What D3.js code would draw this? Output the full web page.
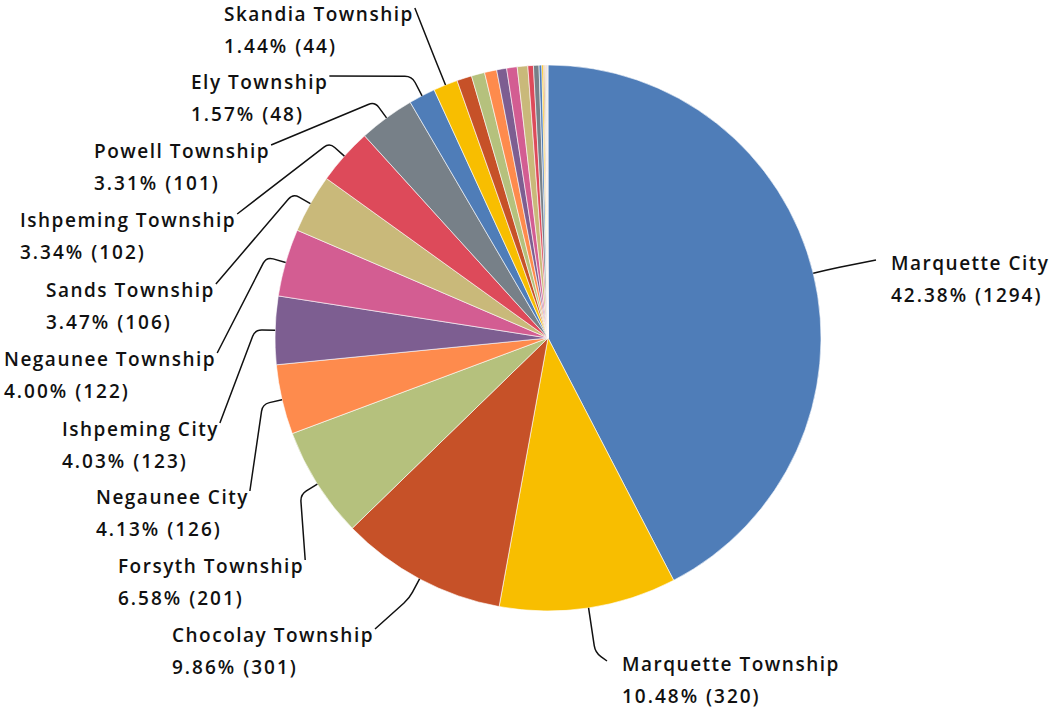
<!DOCTYPE html>
<html>
<head>
<meta charset="utf-8">
<script src="https://cdn.jsdelivr.net/npm/d3@7"></script>
<style>
  body { margin: 0; background: #fff; }
  svg { display: block; }
  .lbl { font-family: "Open Sans", sans-serif; font-weight: 600; font-size: 19px; fill: #111; letter-spacing: 1.5px; }
  .pct { letter-spacing: 2px; }
</style>
</head>
<body>
<div class="chart"></div>
<script>
// slice values, clockwise from 12 o'clock
const names = [
  'Marquette City', 'Marquette Township', 'Chocolay Township', 'Forsyth Township',
  'Negaunee City', 'Ishpeming City', 'Negaunee Township', 'Sands Township',
  'Ishpeming Township', 'Powell Township', 'Ely Township', 'Skandia Township',
  'Other 1', 'Other 2', 'Other 3', 'Other 4', 'Other 5', 'Other 6', 'Other 7',
  'Other 8', 'Other 9', 'Other 10', 'Other 11', 'Other 12', 'Other 13', 'Other 14',
  'Other 15', 'Other 16'
];
const counts = [
  1294, 320, 301, 201, 126, 123, 122, 106, 102, 101, 48, 44,
  27, 24, 22, 18, 19, 19, 10, 10, 5, 3, 2, 2, 1, 1, 1, 1
];
const palette = ['#4f7db8', '#f8be00', '#c65128', '#b5c17d', '#fe8b4d',
  '#7d5e91', '#d35d92', '#c9b97a', '#dd4a5a', '#778088'];

// label placement: [text x, name line centre y, side, knee length]
const labelPos = [
  [891, 263, 1, 20], [622, 664, 1, 45], [172, 635, -1, 22], [118, 566, -1, 20],
  [96, 497, -1, 20], [62, 429, -1, 20], [4, 359, -1, 20], [46, 290, -1, 20],
  [20, 220, -1, 20], [94, 151, -1, 20], [191, 82, -1, 22], [224, 14, -1, 28]
];

const width = 1050, height = 708;
const cx = 548, cy = 338, radius = 273;

const svg = d3.select('.chart').append('svg')
  .attr('width', width)
  .attr('height', height);

const data = names.map((n, i) => ({ name: n, value: counts[i], idx: i }));
const total = d3.sum(counts);

const pie = d3.pie().sort(null).value(d => d.value);
const arcs = pie(data);
const arc = d3.arc().innerRadius(0).outerRadius(radius);

const graph = svg.append('g').attr('transform', `translate(${cx}, ${cy})`);

graph.selectAll('path.slice')
  .data(arcs)
  .enter()
  .append('path')
  .attr('class', 'slice')
  .attr('d', arc)
  .attr('fill', d => palette[d.index % palette.length])
  .attr('stroke', '#fff')
  .attr('stroke-width', 0.6);

const fmt = d3.format('.2f');

labelPos.forEach((p, i) => {
  const a = arcs[i];
  const mid = (a.startAngle + a.endAngle) / 2;
  const dir = [Math.sin(mid), -Math.cos(mid)];
  const [tx, yc, side, knee] = p;

  const t1 = svg.append('text').attr('class', 'lbl')
    .attr('x', tx).attr('y', yc + 7)
    .text(names[i]);
  svg.append('text').attr('class', 'lbl pct')
    .attr('x', tx).attr('y', yc + 39)
    .text(`${fmt(counts[i] / total * 100)}% (${counts[i]})`);

  const tw = t1.node().getComputedTextLength();
  const L = side < 0 ? [tx + tw + 1, yc - 6] : [tx - 15, yc - 3];
  const E = [cx + dir[0] * radius, cy + dir[1] * radius];
  const K = [E[0] + dir[0] * knee, E[1] + dir[1] * knee];

  // round the knee a little
  const rr = 7;
  const u1 = [K[0] - E[0], K[1] - E[1]];
  const l1 = Math.hypot(u1[0], u1[1]);
  const u2 = [L[0] - K[0], L[1] - K[1]];
  const l2 = Math.hypot(u2[0], u2[1]);
  const r1 = Math.min(rr, l1 / 2), r2 = Math.min(rr, l2 / 2);
  const A = [K[0] - u1[0] / l1 * r1, K[1] - u1[1] / l1 * r1];
  const B = [K[0] + u2[0] / l2 * r2, K[1] + u2[1] / l2 * r2];

  const path = d3.path();
  path.moveTo(E[0], E[1]);
  path.lineTo(A[0], A[1]);
  path.quadraticCurveTo(K[0], K[1], B[0], B[1]);
  path.lineTo(L[0], L[1]);

  svg.append('path')
    .attr('d', path.toString())
    .attr('fill', 'none')
    .attr('stroke', '#111')
    .attr('stroke-width', 1.5);
});
</script>
</body>
</html>
